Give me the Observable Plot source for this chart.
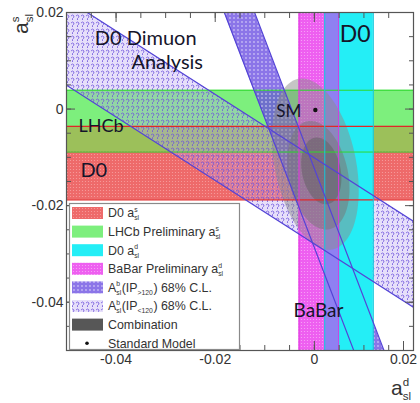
<!DOCTYPE html>
<html><head><meta charset="utf-8">
<script src="https://cdn.jsdelivr.net/npm/d3@7"></script>
<script src="https://cdn.jsdelivr.net/npm/@observablehq/plot@0.6"></script>
<style>body{margin:0;background:#fff}#chart{width:420px;height:403px}text{white-space:pre}</style>
</head><body><div id="chart"></div>
<script>
// ---------------- data ----------------
const xDomain = [-0.05, 0.02];
const yDomain = [-0.05, 0.02];
const majorTicks = [-0.04, -0.02, 0, 0.02];
const minorTicks = [-0.045, -0.04, -0.035, -0.03, -0.025, -0.02, -0.015, -0.01, -0.005, 0, 0.005, 0.01, 0.015];

// horizontal bands (a_sl^s)
const d0asBand = [-0.0188, -0.0036];
const lhcbBand = [-0.0089, 0.0039];
// vertical bands (a_sl^d)
const babarBand = [-0.0031, 0.0049];
const d0adBand = [0.0021, 0.0119];
// D0 dimuon IP<120 : a_s = slope * a_d + intercept
const shallowSlope = -0.657;
const shallowIntercepts = [-0.0279, -0.0101];
// D0 dimuon IP>120 : a_d = slope * a_s + intercept
const steepSlope = -0.373;
const steepIntercepts = [-0.0107, -0.0046];
// combination contours (outer → inner)
const contourCx = [0.0002, 0.0008, 0.0014];
const contourCy = [-0.0114, -0.0137, -0.0128];
const contourA = [0.0180, 0.0114, 0.0070];
const contourB = [0.0082, 0.0060, 0.0039];
const contourTiltDeg = [11, 11, 11];
const contourFill = ["#8c8c8c", "#767676", "#606060"];
// standard model
const smAd = 0.0002, smAs = -0.0002;
// annotations
const labelText = ["D0 Dimuon", "Analysis", "D0", "SM", "LHCb", "D0", "BaBar"];
const labelX = [-0.0443, -0.0369, 0.0051, -0.0077, -0.0476, -0.0472, -0.0042];
const labelY = [0.0146, 0.0096, 0.0155, -0.0005, -0.0036, -0.0127, -0.0419];
const labelSize = [20, 20, 23, 17, 18, 20, 19];

// ---------------- derived tables ----------------
const hBands = [
  {lo: lhcbBand[0], hi: lhcbBand[1], fill: "#7def7d"},
  {lo: d0asBand[0], hi: d0asBand[1], fill: "url(#patRed)"},
  {lo: Math.max(lhcbBand[0], d0asBand[0]), hi: Math.min(lhcbBand[1], d0asBand[1]), fill: "#9cc05a"}
].map(d => ({...d, x1: xDomain[0], x2: xDomain[1]}));
const vBands = [
  {lo: babarBand[0], hi: babarBand[1], fill: "url(#patPink)"},
  {lo: d0adBand[0], hi: d0adBand[1], fill: "#24eef6"},
  {lo: Math.max(babarBand[0], d0adBand[0]), hi: Math.min(babarBand[1], d0adBand[1]), fill: "#8f80f2"}
].map(d => ({...d, y1: yDomain[0], y2: yDomain[1]}));
const shallowPts = xDomain.map(x => ({x, y1: shallowSlope * x + shallowIntercepts[0], y2: shallowSlope * x + shallowIntercepts[1]}));
const steepPts = yDomain.map(y => ({y, x1: steepSlope * y + steepIntercepts[0], x2: steepSlope * y + steepIntercepts[1]}));
const diagLines = [];
shallowIntercepts.forEach((b, i) => xDomain.forEach(x => diagLines.push({id: "s" + i, x, y: shallowSlope * x + b})));
steepIntercepts.forEach((b, i) => yDomain.forEach(y => diagLines.push({id: "t" + i, y, x: steepSlope * y + b})));
const contours = [];
contourCx.forEach((cx, i) => {
  const th = contourTiltDeg[i] * Math.PI / 180;
  for (let k = 0; k <= 96; k++) {
    const t = 2 * Math.PI * k / 96;
    const a = contourA[i] * Math.cos(t), b = contourB[i] * Math.sin(t);
    contours.push({id: i, x: cx + a * Math.sin(th) + b * Math.cos(th), y: contourCy[i] - a * Math.cos(th) + b * Math.sin(th)});
  }
});
const labels = labelText.map((t, i) => ({t, x: labelX[i], y: labelY[i], s: labelSize[i]}));
const fmt = d => d === 0 ? "0" : String(d);
const tickFont = "Liberation Sans, Arial, sans-serif";

const plot = Plot.plot({
  width: 420, height: 403,
  marginLeft: 66, marginRight: 7, marginTop: 12, marginBottom: 53,
  x: {domain: xDomain},
  y: {domain: yDomain},
  style: {fontFamily: tickFont, background: "white", overflow: "visible"},
  marks: [
    Plot.rect(hBands, {x1: "x1", x2: "x2", y1: "lo", y2: "hi", fill: d => d.fill}),
    Plot.areaY(shallowPts, {x: "x", y1: "y1", y2: "y2", fill: "url(#patShallow)", clip: true}),
    Plot.areaX(steepPts, {y: "y", x1: "x1", x2: "x2", fill: "url(#patSteep)", clip: true}),
    Plot.rect(vBands, {x1: "lo", x2: "hi", y1: "y1", y2: "y2", fill: d => d.fill}),
    Plot.line(contours, {x: "x", y: "y", z: "id", fill: d => contourFill[d.id], fillOpacity: 0.5, stroke: "none", clip: true}),
    Plot.ruleY([lhcbBand[1], lhcbBand[0]], {stroke: "#2ed82e", strokeWidth: 1}),
    Plot.ruleY(d0asBand, {stroke: "#e02828", strokeWidth: 1.2}),
    Plot.ruleX(babarBand, {stroke: "#e030e0", strokeWidth: 1}),
    Plot.ruleX(d0adBand, {stroke: "#18c8dc", strokeWidth: 1}),
    Plot.line(diagLines, {x: "x", y: "y", z: "id", stroke: "#5444d6", strokeWidth: 1.2, clip: true}),
    Plot.dot([{x: smAd, y: smAs}], {x: "x", y: "y", r: 2.2, fill: "#111", stroke: "none"}),
    Plot.text(labels, {x: "x", y: "y", text: "t", fontSize: d => d.s, textAnchor: "start", fill: "#15152a", fontFamily: "Lato, sans-serif"}),
    Plot.frame({stroke: "#555", strokeWidth: 1.2}),
    Plot.axisX({ticks: minorTicks, tickSize: -5, tickFormat: () => "", anchor: "bottom", stroke: "#555"}),
    Plot.axisX({ticks: minorTicks, tickSize: -5, tickFormat: () => "", anchor: "top", stroke: "#555"}),
    Plot.axisY({ticks: minorTicks, tickSize: -5, tickFormat: () => "", anchor: "left", stroke: "#555"}),
    Plot.axisY({ticks: minorTicks, tickSize: -5, tickFormat: () => "", anchor: "right", stroke: "#555"}),
    Plot.axisX({ticks: majorTicks.slice(0, -1), tickSize: -9, tickPadding: 13, tickFormat: fmt, anchor: "bottom", stroke: "#555", fill: "#333", fontSize: 14, label: null}),
    Plot.axisX({ticks: majorTicks.slice(-1), tickSize: -9, tickPadding: 13, tickFormat: fmt, anchor: "bottom", stroke: "#555", fill: "#333", fontSize: 14, label: null, dx: -10}),
    Plot.axisX({ticks: majorTicks, tickSize: -9, tickFormat: () => "", anchor: "top", stroke: "#555", label: null}),
    Plot.axisY({ticks: majorTicks, tickSize: -9, tickPadding: 12, tickFormat: fmt, anchor: "left", stroke: "#555", fill: "#333", fontSize: 14, label: null}),
    Plot.axisY({ticks: majorTicks, tickSize: -9, tickFormat: () => "", anchor: "right", stroke: "#555", label: null})
  ]
});
document.getElementById("chart").appendChild(plot);

const svg = d3.select(plot);
svg.insert("defs", ":first-child").html(`
  <pattern id="patRed" width="3" height="3" patternUnits="userSpaceOnUse">
    <rect width="3" height="3" fill="#ee6a6a"/><circle cx="1.5" cy="1.5" r="0.6" fill="#f8a0a0"/>
  </pattern>
  <pattern id="patPink" width="3" height="3" patternUnits="userSpaceOnUse">
    <rect width="3" height="3" fill="#ee5ff0"/><circle cx="1.5" cy="1.5" r="0.6" fill="#f8a8f8"/>
  </pattern>
  <pattern id="patSteep" width="4" height="4" patternUnits="userSpaceOnUse">
    <rect width="4" height="4" fill="#6a4ee2" fill-opacity="0.78"/><circle cx="2" cy="2" r="0.9" fill="#fff" fill-opacity="0.5"/>
  </pattern>
  <pattern id="patShallow" width="5" height="7" patternUnits="userSpaceOnUse">
    <rect width="5" height="7" fill="#b8a4f0" fill-opacity="0.35"/>
    <path d="M1,2 q1.5,-2 3,0 q0,1.5 -1.5,2.5 v1.5" fill="none" stroke="#6e52dc" stroke-width="0.8"/>
  </pattern>`);

function rich(g, x, y, segs, size, color) {
  let cx = x;
  for (const s of segs) {
    if (typeof s === "string") {
      const t = g.append("text").attr("text-anchor", "start").attr("x", cx).attr("y", y).attr("font-size", size).attr("fill", color).text(s);
      cx += t.node().getComputedTextLength();
    } else {
      let w = 0;
      const ss = size * 0.55;
      if (s.sup) { const t = g.append("text").attr("text-anchor", "start").attr("x", cx).attr("y", y - size * 0.42).attr("font-size", ss).attr("fill", color).text(s.sup); w = Math.max(w, t.node().getComputedTextLength()); }
      if (s.sub) { const t = g.append("text").attr("text-anchor", "start").attr("x", cx).attr("y", y + size * 0.25).attr("font-size", ss).attr("fill", color).text(s.sub); w = Math.max(w, t.node().getComputedTextLength()); }
      cx += w + 0.5;
    }
  }
}

// legend
const legendItems = [
  {segs: ["D0 a", {sup: "s", sub: "sl"}], fill: "url(#patRed)"},
  {segs: ["LHCb Preliminary a", {sup: "s", sub: "sl"}], fill: "#7def7d"},
  {segs: ["D0 a", {sup: "d", sub: "sl"}], fill: "#24eef6"},
  {segs: ["BaBar Preliminary a", {sup: "d", sub: "sl"}], fill: "url(#patPink)"},
  {segs: ["A", {sup: "b", sub: "sl"}, "(IP", {sub: ">120"}, ") 68% C.L."], fill: "url(#patSteep)"},
  {segs: ["A", {sup: "b", sub: "sl"}, "(IP", {sub: "<120"}, ") 68% C.L."], fill: "url(#patShallow)"},
  {segs: ["Combination"], fill: "#575757"},
  {segs: ["Standard Model"], dot: true}
];
const lg = svg.append("g").attr("font-family", tickFont).attr("text-anchor", "start");
lg.append("rect").attr("x", 69.5).attr("y", 203.5).attr("width", 170).attr("height", 146).attr("fill", "#fff").attr("stroke", "#8a8a8a").attr("stroke-width", 1.2);
legendItems.forEach((it, i) => {
  const cy = 213 + i * 18.6;
  if (it.dot) lg.append("circle").attr("cx", 87).attr("cy", cy).attr("r", 1.8).attr("fill", "#111");
  else lg.append("rect").attr("x", 72).attr("y", cy - 6).attr("width", 31).attr("height", 12).attr("fill", it.fill);
  rich(lg, 108, cy + 4.3, it.segs, 12.4, "#333");
});

// axis titles
rich(svg.append("g").attr("font-family", tickFont), 391, 395, ["a", {sup: "d", sub: "sl"}], 21, "#333");
rich(svg.append("g").attr("font-family", tickFont).attr("transform", "translate(28,34) rotate(-90)"), 0, 0, ["a", {sup: "s", sub: "sl"}], 21, "#333");
</script>
</body></html>
